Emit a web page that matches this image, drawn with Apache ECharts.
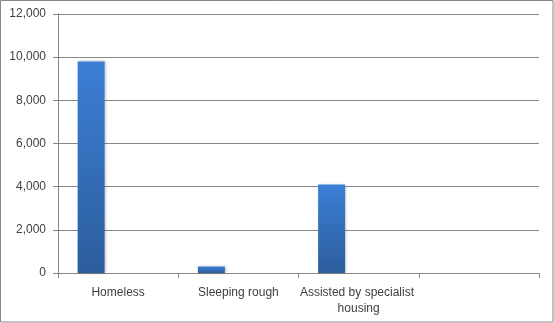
<!DOCTYPE html>
<html>
<head>
<meta charset="utf-8">
<script src="https://cdn.jsdelivr.net/npm/echarts@6/dist/echarts.min.js"></script>
<style>
html,body{margin:0;padding:0;background:#fff;}
#c{width:554px;height:323px;}
</style>
</head>
<body>
<div id="c"></div>
<script>
var categories = ['Homeless', 'Sleeping rough', 'Assisted by specialist housing', ''];
var values = [9800, 300, 4100, null];
var emptySeriesA = [null, null, null, null];
var emptySeriesB = [null, null, null, null];
var yTicks = [0, 2000, 4000, 6000, 8000, 10000, 12000];

var chart = echarts.init(document.getElementById('c'), null, {renderer: 'canvas'});
var grad = new echarts.graphic.LinearGradient(0, 0, 0, 1, [
  {offset: 0, color: '#3b7fd6'},
  {offset: 1, color: '#2c5d9c'}
]);
var font = 'Liberation Sans';
chart.setOption({
  animation: false,
  backgroundColor: '#fff',
  grid: {left: 58, right: 15, top: 14, bottom: 50, containLabel: false},
  graphic: [{
    type: 'rect', silent: true,
    shape: {x: 0.5, y: 0.5, width: 552.5, height: 321.5},
    style: {fill: 'none', stroke: '#868686', lineWidth: 1}
  }],
  xAxis: {
    type: 'category',
    data: categories,
    boundaryGap: true,
    axisLine: {show: true, lineStyle: {color: '#868686', width: 1}},
    axisTick: {show: true, length: 5, lineStyle: {color: '#868686'}},
    axisLabel: {
      interval: 0, margin: 12, color: '#404040', fontFamily: font, fontSize: 12,
      width: 118, overflow: 'break', lineHeight: 16
    },
    splitLine: {show: false}
  },
  yAxis: {
    type: 'value',
    min: yTicks[0], max: yTicks[yTicks.length - 1], interval: 2000,
    axisLine: {show: true, lineStyle: {color: '#868686', width: 1}},
    axisTick: {show: true, length: 5, lineStyle: {color: '#868686'}},
    axisLabel: {
      margin: 12, color: '#404040', fontFamily: font, fontSize: 12,
      formatter: function (v) { return v.toLocaleString('en-US'); }
    },
    splitLine: {show: true, lineStyle: {color: '#868686', width: 1}}
  },
  series: [
    {type: 'bar', data: values, barWidth: 27, barGap: '0%',
     itemStyle: {color: grad, shadowBlur: 3, shadowColor: 'rgba(0,0,0,0.25)', shadowOffsetX: 1}},
    {type: 'bar', data: emptySeriesA, barWidth: 27, barGap: '0%'},
    {type: 'bar', data: emptySeriesB, barWidth: 27, barGap: '0%'}
  ]
});
</script>
</body>
</html>
